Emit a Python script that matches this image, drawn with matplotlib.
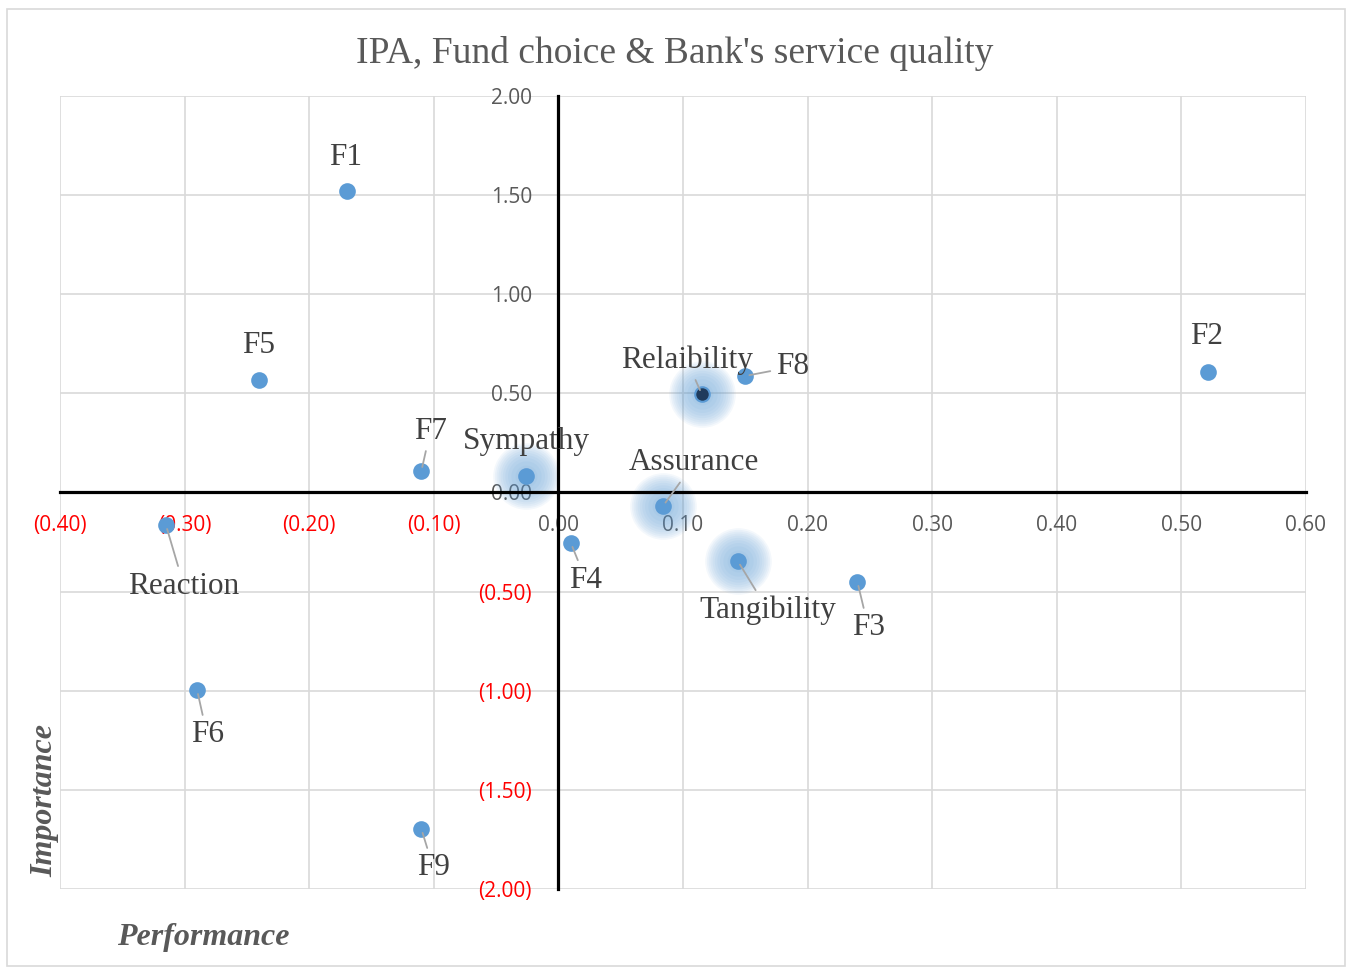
import numpy as np
import matplotlib
matplotlib.use("Agg")
import matplotlib.pyplot as plt
from matplotlib.patches import Rectangle

# =====================================================
# DATA
# =====================================================

names = ["F1", "F5", "F7", "Sympathy", "Relaibility", "F8", "F2",
         "Assurance", "F4", "Tangibility", "F3", "Reaction", "F6", "F9"]
performance = [-0.170, -0.240, -0.110, -0.026, 0.115, 0.150, 0.521,
               0.084, 0.010, 0.144, 0.240, -0.315, -0.290, -0.110]
importance = [1.52, 0.567, 0.108, 0.083, 0.497, 0.588, 0.608,
              -0.068, -0.255, -0.346, -0.451, -0.164, -0.996, -1.697]

glow_names = ["Sympathy", "Relaibility", "Assurance", "Tangibility"]

x_ticks = [-0.4, -0.3, -0.2, -0.1, 0.0, 0.1, 0.2, 0.3, 0.4, 0.5, 0.6]
y_ticks = [-2.0, -1.5, -1.0, -0.5, 0.0, 0.5, 1.0, 1.5, 2.0]

# label offsets in pixels (dx, dy) and whether a leader line is drawn
label_off = {
    "F1": (-1, 34, False), "F5": (-1, 35, False), "F7": (9, 40, True),
    "Sympathy": (0, 35, False), "Relaibility": (-15, 34, True),
    "F8": (47, 9, True), "F2": (-1, 35, False), "Assurance": (31, 43, True),
    "F4": (15, -37, True), "Tangibility": (30, -49, True), "F3": (11, -46, True),
    "Reaction": (18, -61, True), "F6": (10, -45, True), "F9": (12, -39, True),
}

BLUE = "#5B9BD5"
GRAY = "#595959"


def fmt(v):
    if v < 0:
        return "({:.2f})".format(-v)
    return "{:.2f}".format(v)


# =====================================================
# PLOT
# =====================================================

fig = plt.figure(figsize=(13.49, 9.67), dpi=100)
fig.patches.append(Rectangle((0.005, 0.001), 0.992, 0.990, transform=fig.transFigure,
                             fill=False, edgecolor="#D9D9D9", linewidth=1.2))

ax = fig.add_axes([0.0445, 0.0807, 0.9236, 0.8200])

# spines first: set_position resets the ticks
ax.spines["left"].set_position(("data", 0))
ax.spines["bottom"].set_position(("data", 0))
ax.spines["top"].set_visible(False)
ax.spines["right"].set_visible(False)
for s in ["left", "bottom"]:
    ax.spines[s].set_linewidth(2.3)
    ax.spines[s].set_zorder(3)

ax.set_xlim(-0.4, 0.6)
ax.set_ylim(-2.0, 2.0)

ax.set_xticks(x_ticks)
ax.set_yticks(y_ticks)
ax.set_xticklabels([fmt(v) for v in x_ticks], fontsize=15, family="Open Sans")
ax.set_yticklabels([fmt(v) for v in y_ticks], fontsize=15, family="Open Sans")
ax.tick_params(axis="x", length=0, pad=16)
ax.tick_params(axis="y", length=0, pad=19)
for lab, v in zip(ax.get_xticklabels(), x_ticks):
    lab.set_color("red" if v < 0 else GRAY)
for lab, v in zip(ax.get_yticklabels(), y_ticks):
    lab.set_color("red" if v < 0 else GRAY)

ax.grid(True, color="#D9D9D9", linewidth=1.2, zorder=0)
ax.set_axisbelow(True)

# glow behind the service-quality dimensions
for n in glow_names:
    i = names.index(n)
    for s in np.linspace(2300, 250, 10):
        ax.scatter(performance[i], importance[i], s=s, color=BLUE,
                   alpha=0.065, linewidths=0, zorder=2)

for i, n in enumerate(names):
    face = "#1F3B5C" if n == "Relaibility" else BLUE
    ax.scatter(performance[i], importance[i], s=110, color=face,
               edgecolors=BLUE, linewidths=1.5, zorder=4)
    dx, dy, leader = label_off[n]
    props = None
    if leader:
        props = dict(arrowstyle="-", color="#A6A6A6", lw=1.3,
                     shrinkA=2, shrinkB=3)
    ax.annotate(n, (performance[i], importance[i]), xytext=(dx, dy),
                textcoords="offset pixels", ha="center", va="center",
                fontsize=22.5, family="Liberation Serif", color="#404040",
                arrowprops=props, zorder=5)

fig.text(0.5, 0.945, "IPA, Fund choice & Bank's service quality",
         ha="center", va="center", fontsize=27, family="Liberation Serif",
         color=GRAY)
fig.text(0.151, 0.030, "Performance", ha="center", va="center", fontsize=23,
         family="Liberation Serif", style="italic", weight="bold", color=GRAY)
fig.text(0.033, 0.172, "Importance", ha="center", va="center", fontsize=23,
         family="Liberation Serif", style="italic", weight="bold", color=GRAY,
         rotation=90)

fig.savefig("out.png", dpi=100)
